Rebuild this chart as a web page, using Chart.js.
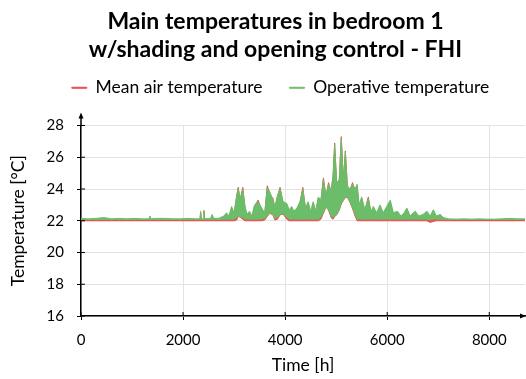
<!DOCTYPE html>
<html>
<head>
<meta charset="utf-8">
<script src="https://cdn.jsdelivr.net/npm/chart.js@4.4.1/dist/chart.umd.min.js"></script>
<style>
  html, body { margin: 0; padding: 0; background: #fff; }
  #wrap { width: 526px; height: 379px; }
</style>
</head>
<body>
<div id="wrap"><canvas id="myChart"></canvas></div>
<script>
const hours = [
  0, 150, 300, 450, 600, 750, 900, 1050, 1200, 1330, 1350, 1370, 1500, 1650, 1800, 1950, 2100, 2250,
  2330, 2345, 2360, 2395, 2410, 2425, 2540, 2570, 2600, 2700, 2800,
  2850, 2900, 2950, 3000, 3050, 3080, 3120, 3170, 3210, 3250, 3300, 3350, 3400, 3470, 3540, 3600,
  3650, 3700, 3760, 3800, 3850, 3900, 3960, 4030, 4080, 4130, 4170, 4230, 4290, 4346, 4400, 4450,
  4500, 4550, 4600, 4650, 4700, 4750, 4800, 4850, 4900, 4940, 4970, 5010, 5060, 5100, 5140, 5180,
  5220, 5270, 5320, 5370, 5410, 5450, 5500, 5560, 5630, 5680, 5730, 5790, 5860, 5920, 5990, 6060,
  6120, 6200, 6270, 6330, 6385, 6450, 6510, 6550, 6620, 6700, 6780, 6840, 6905, 6960, 7040, 7100,
  7200, 7350, 7500, 7650, 7800, 7950, 8100, 8250, 8400, 8550, 8700, 8760
];

// operative temperature, upper / lower envelope [°C]
const operativeHigh = [
  22.15, 22.12, 22.15, 22.2, 22.12, 22.15, 22.12, 22.15, 22.12, 22.12, 22.3, 22.12, 22.15, 22.15, 22.12, 22.12, 22.15, 22.12,
  22.12, 22.6, 22.12, 22.12, 22.6, 22.12, 22.15, 22.4, 22.15, 22.15, 22.3,
  22.5, 22.3, 22.9, 22.5, 23.6, 24.0, 23.4, 24.0, 23.0, 22.4, 22.6, 22.3, 23.0, 23.2, 22.8, 22.5,
  24.1, 23.8, 23.3, 22.9, 23.6, 24.0, 23.2, 23.1, 22.7, 22.9, 22.6, 22.8, 23.2, 24.0, 22.8, 23.2,
  22.6, 23.2, 22.6, 23.5, 23.3, 24.6, 23.6, 24.3, 23.9, 24.8, 26.8, 24.4, 24.6, 27.2, 24.6, 26.3,
  24.2, 24.0, 24.3, 24.0, 24.3, 23.0, 23.5, 22.7, 23.4, 22.6, 22.9, 22.5, 23.0, 22.5, 22.9, 23.3,
  22.5, 22.6, 22.3, 22.5, 22.8, 22.3, 22.5, 22.6, 22.3, 22.4, 22.6, 22.3, 22.7, 22.3, 22.4, 22.2,
  22.12, 22.1, 22.12, 22.1, 22.12, 22.1, 22.1, 22.12, 22.15, 22.12, 22.12, 22.12
];
const operativeLow = [
  22.08, 22.08, 22.08, 22.08, 22.08, 22.08, 22.08, 22.08, 22.08, 22.08, 22.08, 22.08, 22.08, 22.08, 22.08, 22.08, 22.08, 22.08,
  22.08, 22.08, 22.08, 22.08, 22.08, 22.08, 22.08, 22.08, 22.08, 22.08, 22.1,
  22.1, 22.1, 22.1, 22.1, 22.2, 22.3, 22.25, 22.2, 22.1, 22.1, 22.1, 22.1, 22.1, 22.1, 22.1, 22.15,
  22.3, 22.5, 22.4, 22.15, 22.2, 22.4, 22.45, 22.2, 22.1, 22.1, 22.1, 22.1, 22.1, 22.1, 22.1, 22.1,
  22.1, 22.1, 22.1, 22.1, 22.2, 22.5, 22.9, 22.7, 22.3, 22.2, 22.3, 22.4, 22.7, 23.1, 23.3, 23.5,
  23.5, 23.2, 22.8, 22.4, 22.1, 22.1, 22.1, 22.1, 22.1, 22.1, 22.1, 22.1, 22.1, 22.1, 22.1, 22.1,
  22.1, 22.1, 22.1, 22.1, 22.1, 22.1, 22.1, 22.1, 22.1, 22.1, 22.1, 22.05, 22.1, 22.1, 22.1, 22.1,
  22.08, 22.08, 22.08, 22.08, 22.08, 22.08, 22.08, 22.08, 22.08, 22.08, 22.08, 22.08
];

// mean air temperature, upper / lower envelope [°C]
const airHigh = [
  22.03, 22.03, 22.03, 22.03, 22.03, 22.03, 22.03, 22.03, 22.03, 22.03, 22.1, 22.03, 22.03, 22.03, 22.03, 22.03, 22.03, 22.03,
  22.03, 22.5, 22.03, 22.03, 22.65, 22.03, 22.03, 22.3, 22.03, 22.03, 22.2,
  22.4, 22.2, 22.8, 22.4, 23.5, 24.1, 23.3, 24.1, 22.9, 22.3, 22.5, 22.2, 22.9, 23.3, 22.7, 22.4,
  24.2, 23.7, 23.4, 22.8, 23.5, 24.1, 23.1, 23.0, 22.6, 22.8, 22.5, 22.7, 23.1, 24.1, 22.7, 23.1,
  22.5, 23.1, 22.5, 23.4, 23.2, 24.7, 23.5, 24.4, 23.8, 24.9, 26.9, 24.3, 24.5, 27.3, 24.5, 26.4,
  24.1, 23.9, 24.4, 23.9, 24.2, 22.9, 23.4, 22.6, 23.5, 22.5, 22.8, 22.4, 22.9, 22.4, 22.8, 23.2,
  22.4, 22.5, 22.2, 22.4, 22.7, 22.2, 22.4, 22.5, 22.2, 22.3, 22.5, 22.2, 22.6, 22.2, 22.3, 22.1,
  22.03, 22.03, 22.03, 22.03, 22.03, 22.03, 22.03, 22.03, 22.03, 22.03, 22.03, 22.03
];
const airLow = [
  22.0, 22.0, 22.0, 22.0, 22.0, 22.0, 22.0, 22.0, 22.0, 22.0, 22.0, 22.0, 22.0, 22.0, 22.0, 22.0, 22.0, 22.0,
  22.0, 22.0, 22.0, 22.0, 22.0, 22.0, 22.0, 22.0, 22.0, 22.0, 22.0,
  22.0, 22.0, 22.0, 22.0, 22.05, 22.27, 22.22, 22.1, 22.0, 22.0, 22.0, 22.0, 22.0, 22.0, 22.0, 22.05,
  22.27, 22.47, 22.37, 22.05, 22.1, 22.37, 22.42, 22.1, 22.0, 22.0, 22.0, 22.0, 22.0, 22.0, 22.0, 22.0,
  22.0, 22.0, 22.0, 22.0, 22.1, 22.47, 22.87, 22.67, 22.2, 22.1, 22.27, 22.37, 22.67, 23.07, 23.27, 23.47,
  23.47, 23.17, 22.77, 22.3, 22.0, 22.0, 22.0, 22.0, 22.0, 22.0, 22.0, 22.0, 22.0, 22.0, 22.0, 22.0,
  22.0, 22.0, 22.0, 22.0, 22.0, 22.0, 22.0, 22.0, 22.0, 22.0, 22.0, 21.9, 21.95, 22.0, 22.0, 22.0,
  22.0, 22.0, 22.0, 22.0, 22.0, 22.0, 22.0, 22.0, 22.0, 22.0, 22.0, 22.0
];

const yTicks = [16, 18, 20, 22, 24, 26, 28];
const xTicks = [0, 2000, 4000, 6000, 8000];

const RED = '#ee4b4b';
const GREEN = '#6cbd69';
const FONT = 'Lato, "Open Sans", sans-serif';

const toPoints = (ys) => ys.map((y, i) => ({ x: hours[i], y: y }));

// title and legend sit a little right of the canvas centre in the original
const nudgeHeader = {
  id: 'nudgeHeader',
  afterLayout(chart) {
    chart.titleBlock.left += 13;
    chart.titleBlock.right += 13;
    chart.legend.left += 18;
    chart.legend.right += 18;
  }
};

// axis arrows at the ends of both axes, plus the inner half of the tick marks
const axisArrows = {
  id: 'axisArrows',
  afterDraw(chart) {
    const { ctx, chartArea } = chart;
    const x0 = chart.scales.x.getPixelForValue(0);
    const y0 = chart.scales.y.getPixelForValue(yTicks[0]);
    const tip = chartArea.top - 13;
    ctx.save();
    ctx.strokeStyle = '#000';
    ctx.fillStyle = '#000';
    ctx.lineWidth = 1.5;
    ctx.beginPath();
    ctx.moveTo(x0, chartArea.top);
    ctx.lineTo(x0, tip + 3);
    ctx.stroke();
    ctx.beginPath();
    ctx.moveTo(x0, tip);
    ctx.lineTo(x0 - 2.5, tip + 6);
    ctx.lineTo(x0 + 2.5, tip + 6);
    ctx.closePath();
    ctx.fill();
    const right = chartArea.right;
    ctx.beginPath();
    ctx.moveTo(right + 1, y0);
    ctx.lineTo(right - 5, y0 - 2.5);
    ctx.lineTo(right - 5, y0 + 2.5);
    ctx.closePath();
    ctx.fill();
    ctx.lineWidth = 1;
    yTicks.forEach(t => {
      const y = chart.scales.y.getPixelForValue(t);
      ctx.beginPath();
      ctx.moveTo(x0, y);
      ctx.lineTo(x0 + 4, y);
      ctx.stroke();
    });
    xTicks.forEach(t => {
      const x = chart.scales.x.getPixelForValue(t);
      ctx.beginPath();
      ctx.moveTo(x, y0);
      ctx.lineTo(x, y0 - 4);
      ctx.stroke();
    });
    ctx.restore();
  }
};

const ctx = document.getElementById('myChart').getContext('2d');

new Chart(ctx, {
  type: 'line',
  data: {
    datasets: [
      {
        label: 'Mean air temperature',
        data: toPoints(airHigh),
        borderColor: RED,
        backgroundColor: RED,
        borderWidth: 1,
        fill: '+1',
        order: 1,
      },
      {
        label: 'air low',
        data: toPoints(airLow),
        borderColor: RED,
        borderWidth: 1,
        fill: false,
        order: 1,
      },
      {
        label: 'Operative temperature',
        data: toPoints(operativeHigh),
        borderColor: GREEN,
        backgroundColor: GREEN,
        borderWidth: 1,
        fill: '+1',
        order: 0,
      },
      {
        label: 'operative low',
        data: toPoints(operativeLow),
        borderColor: GREEN,
        borderWidth: 1,
        fill: false,
        order: 0,
      },
    ],
  },
  options: {
    responsive: true,
    maintainAspectRatio: false,
    animation: false,
    elements: {
      point: { radius: 0 },
      line: { tension: 0 },
    },
    layout: { padding: { left: 0, right: 1, top: 0, bottom: 0 } },
    plugins: {
      title: {
        display: true,
        text: ['Main temperatures in bedroom 1', 'w/shading and opening control - FHI'],
        color: '#000',
        font: { family: FONT, size: 23, weight: 'bold', lineHeight: 28.5 / 23 },
        padding: { top: 7, bottom: -12 },
      },
      legend: {
        display: true,
        labels: {
          color: '#000',
          font: { family: FONT, size: 17.5 },
          boxWidth: 15,
          boxHeight: 1,
          padding: 27,
          filter: (item) => item.datasetIndex === 0 || item.datasetIndex === 2,
          sort: (a, b) => a.datasetIndex - b.datasetIndex,
        },
      },
      tooltip: { enabled: false },
    },
    scales: {
      x: {
        type: 'linear',
        min: 0,
        max: 8700,
        afterBuildTicks: (scale) => { scale.ticks = xTicks.map(v => ({ value: v })); },
        ticks: { color: '#000', font: { family: FONT, size: 15 }, padding: 11, callback: (v) => String(v) },
        grid: { color: '#e3e3e3', tickColor: '#000', tickLength: 4, lineWidth: 1 },
        border: { color: '#000', width: 1.5 },
        title: {
          display: true,
          text: 'Time [h]',
          color: '#000',
          font: { family: FONT, size: 17.5 },
          padding: { top: 2, bottom: 3 },
        },
        afterFit: (scale) => { scale.height = 63; },
      },
      // empty band that keeps the gap between legend and plot
      gap: {
        type: 'linear',
        position: 'top',
        display: true,
        grid: { display: false },
        ticks: { display: false },
        border: { display: false },
        afterFit: (scale) => { scale.height = 19; },
      },
      y: {
        min: 16,
        max: 28,
        afterBuildTicks: (scale) => { scale.ticks = yTicks.map(v => ({ value: v })); },
        ticks: { color: '#000', font: { family: FONT, size: 15 }, padding: 13 },
        grid: { color: '#e3e3e3', tickColor: '#000', tickLength: 4, lineWidth: 1 },
        border: { color: '#000', width: 1.5 },
        title: {
          display: true,
          text: 'Temperature [°C]',
          color: '#000',
          font: { family: FONT, size: 17.5 },
          padding: { top: 8, bottom: 4 },
        },
        afterFit: (scale) => { scale.width = 81; },
      },
    },
  },
  plugins: [nudgeHeader, axisArrows],
});
</script>
</body>
</html>
